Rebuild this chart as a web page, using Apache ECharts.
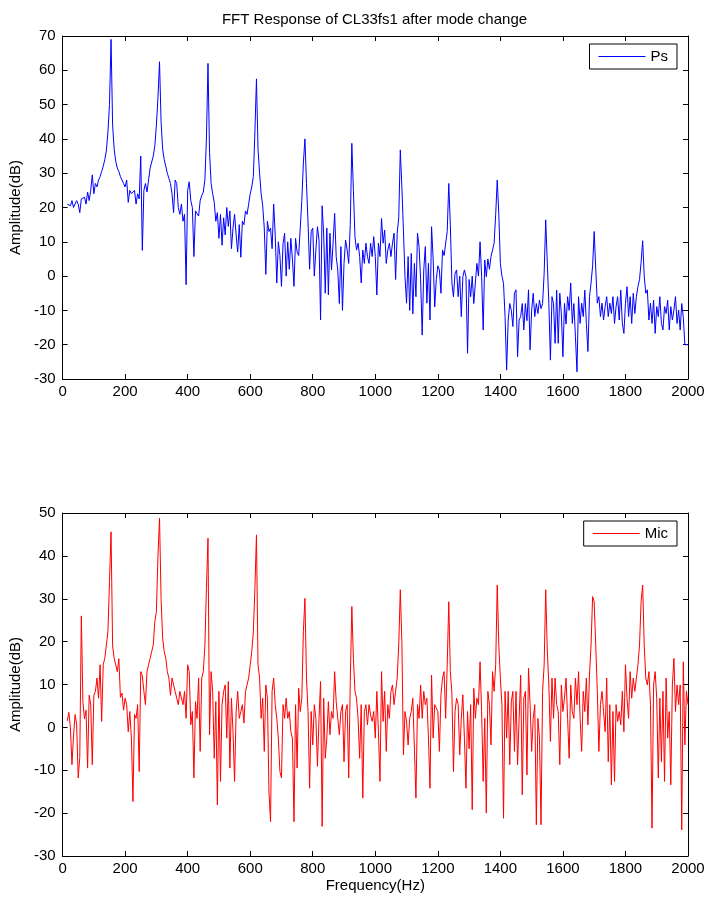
<!DOCTYPE html>
<html>
<head>
<meta charset="utf-8">
<title>FFT Response of CL33fs1 after mode change</title>
<script src="https://cdn.jsdelivr.net/npm/echarts@6.0.0/dist/echarts.min.js"></script>
<style>
  html, body { margin: 0; padding: 0; background: #fff; }
  #chart { width: 712px; height: 907px; }
</style>
</head>
<body>
<div id="chart"></div>
<script>
// ---- Data ----
// FFT bins: uniform 5 Hz grid from 15 Hz to 2000 Hz
const FREQ_START = 15;
const FREQ_STEP = 5;
const FREQ_END = 2000;

const xTicks = [0, 200, 400, 600, 800, 1000, 1200, 1400, 1600, 1800, 2000];
const yTicksTop = [-30, -20, -10, 0, 10, 20, 30, 40, 50, 60, 70];
const yTicksBottom = [-30, -20, -10, 0, 10, 20, 30, 40, 50];

// Ps amplitude (dB)
const psAmp = [
  /* 15-95 */   21,21.5,20.5,22,20,19.5,22,21,18.5,22.5,22,23,21,24.5,22,25,29.5,
  /* 100 */     24,27,26,28,29,30.5,32,34,36.5,42,50,69,44,37,33.5,31.5,30.5,29,28.5,27,
  /* 200 */     26,28,21.5,25,24,23.5,25,21,24,22.5,35,7.5,25,27,24.5,28,31.5,32,35,38,
  /* 300 */     44,52,62.5,45,37,34,32,30,28.5,27,24,18.5,28,27,20,18,21,16,18,-2.5,
  /* 400 */     25,27.5,22,20,5.7,19,19.5,17.5,22,23.5,24.5,28,40,62,36,27,24,21.5,16,18.5,
  /* 500 */     11,18,9,17,12,20,14.5,19,8,14,18,12,7,15,5.5,16,15,19,18,21,
  /* 600 */     24,26,29,42,57.5,37,30,24,20.5,14,0.5,16,13,14,8,21,12,-2,10,6,
  /* 700 */     -3,9.5,12.5,0,10,2,11,5,-3,11,7,6,14,22,33,40,27,15.4,2,13,
  /* 800 */     14,0,7.6,14.4,10.5,-12.8,20.5,12,-5,14,-5.5,12.5,1.8,9.6,18.3,5.7,1.8,-8,8.6,-10,
  /* 900 */     3.7,10.5,7.6,3.7,15,38.7,25,11.5,7.6,9.6,5.7,-2,7.6,3.7,9.6,5.7,3.7,9.6,5.7,11.5,
  /* 1000 */    5.7,-5.5,9.6,5.7,16.8,9.6,13.4,3.7,7.6,9.6,5.7,9.6,12.5,-1,12.5,17,36.8,26,13.4,-0.2,
  /* 1100 */    -7.9,5.7,-10,6.6,-11,3.7,-6,12.5,8.6,-1.1,-17.2,1.8,8.6,-7.9,3.7,-12.8,14.4,5,-9,-1,
  /* 1200 */    3,1.8,-5,7.6,6,6,13,27,15,-2,-6,0.8,1.8,-6,0,-11.8,-0.2,1.8,-0.2,-22.5,
  /* 1300 */    -1,-6,0,-8,-2,3.7,0,10,0,-15.7,4.7,-0.2,5,2,5.7,7.6,9.6,18,28,18,
  /* 1400 */    3.7,0,-2.1,-11.8,-27.4,-12.8,-8,-10,-14.7,-5,-4,-23.5,-12.8,-11.8,-8,-15.7,-8,-13,-4,-21.5,
  /* 1500 */    -10,-5,-11.8,-8,-10.9,-7,-9.5,-8,0.8,16.4,4,-7.9,-24.5,-6,-8,-19.6,-4.1,-19.6,-5,-11,
  /* 1600 */    -23.5,-8,-14,-6,-10,-2,-13.8,-8,-17.7,-27.9,-6,-13.8,-7.9,-11.8,-4.1,-13.8,-22,-6,-2,3,
  /* 1700 */    13,2,-7.9,-6,-11.8,-7.9,-12.8,-8.9,-6,-11.8,-7.9,-10.9,-6,-13.8,-8.9,-6,-12.8,-4.1,-13.8,-16.7,
  /* 1800 */    -7.9,-3.1,-11.8,-6,-13.8,-5,-10.9,-6,-3,-1,4,10.3,0,-5,-4,-12.8,-7.9,-13.8,-7,-16.7,
  /* 1900 */    -8.9,-11.8,-6,-13.8,-15.7,-8.9,-10.9,-7,-15.7,-8.9,-12.8,-9.9,-6,-13.8,-9.9,-15.7,-8,-12,-20,-20,
  /* 2000 */    -20
];

// Mic amplitude (dB)
const micAmp = [
  /* 15-95 */   1.5,3.5,0,-8.7,-2,3,0.6,-11.8,-7,26,6,2,4,-9.5,7.5,5.3,-8.7,
  /* 100 */     7.5,8.4,11.5,6.8,14.6,1.4,14.6,16.1,19.2,22.3,34,45.6,19,16.1,14.6,13,16,7,8,4,
  /* 200 */     6.8,5.3,-1,3.7,-2.5,-17.3,3,2.1,5.3,-10.3,13,12,8.4,5.3,13,14.6,16.1,17.7,19.2,24.7,
  /* 300 */     27,40,48.8,30,20.8,17.7,16.1,13,11.5,7.5,11.5,9.9,8.4,6.8,5.3,8.4,8.4,5.3,8.4,2.1,
  /* 400 */     14.6,13,0.6,3.7,-11.8,6,2.1,11.5,-5.6,11.5,13,19,32.4,44.1,-1.7,13,8.4,-7.2,6,-18.1,
  /* 500 */     8.4,-12.6,5.3,8.4,9.9,-2.5,10.7,-9.5,6.8,-1,-12.6,3.7,8.4,2.1,3.7,5.3,1,8.4,8.4,11.5,
  /* 600 */     14.6,17.7,22.3,32.4,44.9,14.6,11.5,2.1,6.8,-5.6,9.9,6.8,-15,-22,8.4,11.5,5.3,2.1,-2.5,-10.3,
  /* 700 */     -11.8,5.3,2.1,6.8,2.1,3.7,-1,-2.5,-22,5.3,-9.5,9.1,3.7,6.8,22.3,30.1,11.5,3.7,-14.2,3.7,
  /* 800 */     -4.1,5.3,2.1,-9.1,2.1,10.7,-23.1,6.8,-7.2,-2.5,6,-1.7,3.7,2.1,13,6,2.1,-1.7,3.7,5.3,
  /* 900 */     -8,3.7,5.3,-11.8,10.7,28.2,16.1,8.4,6.8,2.1,-7.2,5.3,-16.5,3.7,5.3,0.6,5.3,2.9,1.4,3.7,
  /* 1000 */    -2.5,8.4,-1,-12.6,13,1.4,8.4,-5.6,5.3,2.1,8.4,9.9,5.3,8.4,11.5,19.2,32.1,20,-6.4,3.7,
  /* 1100 */    1.4,-4.1,2.1,3.7,6.8,6.8,-16.5,5.3,2.1,9.9,2.1,8.4,5.3,6.8,-2.5,-14.2,12.2,-2.5,5.3,5.3,
  /* 1200 */    3.7,-5.6,7.6,11.5,13,2.1,14.6,29.3,13,8,-10.3,3.7,6.8,5.3,-6.4,2.1,7.6,-2.5,-14.2,3.7,
  /* 1300 */    -5,5.3,-19.2,9.1,2.1,6.8,5.3,15.3,3.7,-12.6,2.1,-20,8.4,5.3,-4.1,13,8.4,14.6,33.2,19.2,
  /* 1400 */    11.5,5.3,-21.2,8.4,-2.5,8.4,-8.7,6,8.4,-5.6,8.4,-8.7,2.1,12.2,-15.7,6.8,8.4,-11.1,13.8,5.3,
  /* 1500 */    -5.6,2.1,5.3,-22.7,2.1,-2.5,-22.7,8.4,14.6,32.1,18,9.9,-3.3,11.5,2.1,11.5,5.3,3.7,-8.7,9.9,
  /* 1600 */    3.7,6.8,11.5,2.1,-7.2,9.9,3.7,2.1,11.5,5.3,13,2.1,-5.6,8.4,3.7,11.5,0.6,12.2,19.2,30.5,
  /* 1700 */    29.3,19,8.4,-5.6,5.3,8.4,3.7,-1,11.5,-8,5.3,-13.4,3.7,-12.6,5.3,1.4,3.7,0.6,8.4,-1,
  /* 1800 */    14.6,6.8,2.1,13,6.8,11.5,8.4,11.5,14.6,19.2,29.3,33.2,19.2,11.5,9.9,13,5.3,-23.5,9.9,13,
  /* 1900 */    6.8,-11.8,6.8,-8,8.4,-12.6,11.5,-2.5,3.7,-13.4,9.9,16.1,3.7,9.9,5.3,9.9,-23.9,15.3,-4.1,8.4,
  /* 2000 */    5.3
];

// ---- Build the frequency grid (FFT bins) ----
const freq = [];
for (let f = FREQ_START; f <= FREQ_END; f += FREQ_STEP) freq.push(f);
if (freq.length !== psAmp.length || freq.length !== micAmp.length) {
  console.error('length mismatch', freq.length, psAmp.length, micAmp.length);
}
const psData = freq.map((f, i) => [f, psAmp[i]]);
const micData = freq.map((f, i) => [f, micAmp[i]]);

// ---- Styling ----
const FONT = '"Liberation Sans", Arial, Helvetica, sans-serif';
const AX = '#000';
const GRID_LEFT = 61, GRID_W = 627, GRID_H = 343;
const TOP1 = 36, TOP2 = 513;
const plain = v => String(v);

function xAxisDef(gridIndex, pos, showLabels, name) {
  return {
    type: 'value', gridIndex: gridIndex, position: pos,
    min: xTicks[0], max: xTicks[xTicks.length - 1], interval: xTicks[1] - xTicks[0],
    axisLine: { show: true, onZero: false, lineStyle: { color: AX, width: 1 } },
    axisTick: { show: true, inside: true, length: 5, lineStyle: { color: AX, width: 1 } },
    axisLabel: { show: showLabels, color: AX, fontSize: 15, fontFamily: FONT, margin: 5, formatter: plain },
    splitLine: { show: false },
    name: name || '', nameLocation: 'middle', nameGap: 22,
    nameTextStyle: { color: AX, fontSize: 15, fontFamily: FONT }
  };
}
function yAxisDef(gridIndex, pos, ticks, showLabels, name) {
  return {
    type: 'value', gridIndex: gridIndex, position: pos,
    min: ticks[0], max: ticks[ticks.length - 1], interval: ticks[1] - ticks[0],
    axisLine: { show: true, onZero: false, lineStyle: { color: AX, width: 1 } },
    axisTick: { show: true, inside: true, length: 5, lineStyle: { color: AX, width: 1 } },
    axisLabel: { show: showLabels, color: AX, fontSize: 15, fontFamily: FONT, margin: 7, formatter: plain },
    splitLine: { show: false },
    name: name || '', nameLocation: 'middle', nameGap: 33,
    nameTextStyle: { color: AX, fontSize: 15, fontFamily: FONT }
  };
}
function legendDef(name, top) {
  return {
    data: [name], right: 35, top: top, orient: 'vertical',
    backgroundColor: '#fff', borderColor: AX, borderWidth: 1, borderRadius: 0,
    padding: [5, 9, 5, 9], itemWidth: 47, itemHeight: 1, icon: 'rect',
    textStyle: { color: AX, fontSize: 15, fontFamily: FONT },
    selectedMode: false
  };
}

const chart = echarts.init(document.getElementById('chart'), null, { renderer: 'canvas' });
chart.setOption({
  animation: false,
  backgroundColor: '#fff',
  graphic: [{
    type: 'text', x: GRID_LEFT + GRID_W / 2, y: 20,
    style: {
      text: 'FFT Response of CL33fs1 after mode change',
      fill: AX, font: '15px ' + FONT, textAlign: 'center', textVerticalAlign: 'middle'
    }
  }],
  grid: [
    { left: GRID_LEFT, top: TOP1, width: GRID_W, height: GRID_H },
    { left: GRID_LEFT, top: TOP2, width: GRID_W, height: GRID_H }
  ],
  xAxis: [
    xAxisDef(0, 'bottom', true),
    xAxisDef(0, 'top', false),
    xAxisDef(1, 'bottom', true, 'Frequency(Hz)'),
    xAxisDef(1, 'top', false)
  ],
  yAxis: [
    yAxisDef(0, 'left', yTicksTop, true, 'Amplitude(dB)'),
    yAxisDef(0, 'right', yTicksTop, false),
    yAxisDef(1, 'left', yTicksBottom, true, 'Amplitude(dB)'),
    yAxisDef(1, 'right', yTicksBottom, false)
  ],
  legend: [legendDef('Ps', 44), legendDef('Mic', 521)],
  series: [
    {
      name: 'Ps', type: 'line', xAxisIndex: 0, yAxisIndex: 0, data: psData,
      symbol: 'none', showSymbol: false, smooth: false,
      lineStyle: { color: '#0000ff', width: 1 }, itemStyle: { color: '#0000ff' }
    },
    {
      name: 'Mic', type: 'line', xAxisIndex: 2, yAxisIndex: 2, data: micData,
      symbol: 'none', showSymbol: false, smooth: false,
      lineStyle: { color: '#ff0000', width: 1 }, itemStyle: { color: '#ff0000' }
    }
  ]
});
</script>
</body>
</html>
